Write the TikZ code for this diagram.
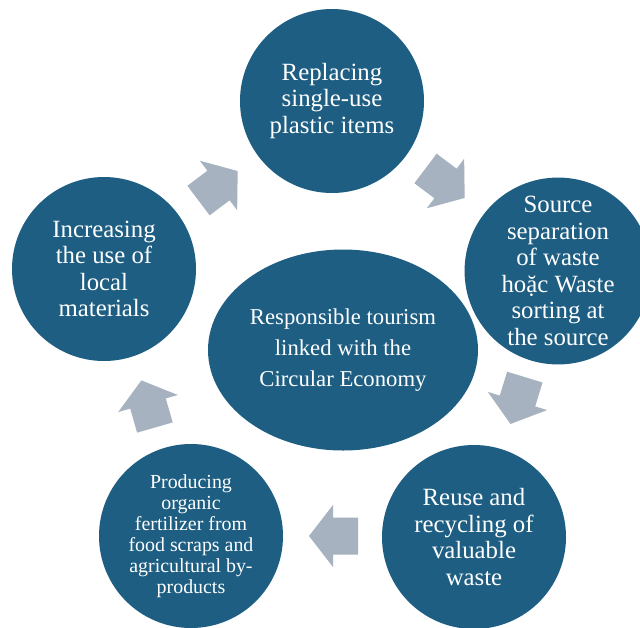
\documentclass[tikz,border=0pt]{standalone}
\usepackage{fontspec}
\setmainfont{Liberation Serif}
\newfontfamily\discfont{Liberation Serif}
\definecolor{discblue}{HTML}{1D5E82}
\definecolor{arrowgrey}{HTML}{A7B2C0}
\usetikzlibrary{shapes.geometric}
\tikzset{
  x=1pt, y=-1pt,
  disc/.style={circle, fill=discblue, draw=none, minimum size=184pt, inner sep=0pt,
    text=white, align=center, font=\discfont\fontsize{24.8}{26.6}\selectfont},
  smalldisc/.style={disc, font=\discfont\fontsize{19.9}{21}\selectfont},
  hub/.style={ellipse, fill=discblue, draw=none, minimum width=270pt, minimum height=201pt,
    inner sep=0pt, text=white, align=center, font=\discfont\fontsize{22.7}{31}\selectfont},
  flowarrow/.pic={
    \fill[arrowgrey] (-25,-18.5) -- (0,-18.5) -- (0,-31) -- (24,0) -- (0,31)
      -- (0,18.5) -- (-25,18.5) -- cycle;
  }
}
\begin{document}
\begin{tikzpicture}
  \useasboundingbox (0,0) rectangle (640,627);
  \clip (0,0) rectangle (640,627);
  \fill[white] (0,0) rectangle (640,627);

  % outer ring of steps
  \node[disc] (replace) at (332,101) {Replacing\\single-use\\plastic items};
  \node[disc] (separate) at (558,271) {Source\\separation\\of waste\\hoặc Waste\\sorting at\\the source};
  \node[disc] (reuse) at (474,537) {Reuse and\\recycling of\\valuable\\waste};
  \node[smalldisc] (compost) at (191,536) {Producing\\organic\\fertilizer from\\food scraps and\\agricultural by-\\products};
  \node[disc] (local) at (104,269) {Increasing\\the use of\\local\\materials};

  % central theme
  \node[hub] (core) at (343,350) {Responsible tourism\\linked with the\\Circular Economy};

  % block arrows around the cycle
  \pic[rotate=37] (toreplace) at (218.5,185.5) {flowarrow};
  \pic[rotate=-37] (toseparate) at (445.5,183.5) {flowarrow};
  \pic[rotate=-107] (toreuse) at (517.5,401) {flowarrow};
  \pic[rotate=180] (tocompost) at (333,536) {flowarrow};
  \pic[rotate=106] (tolocal) at (148,403.5) {flowarrow};
\end{tikzpicture}
\end{document}
